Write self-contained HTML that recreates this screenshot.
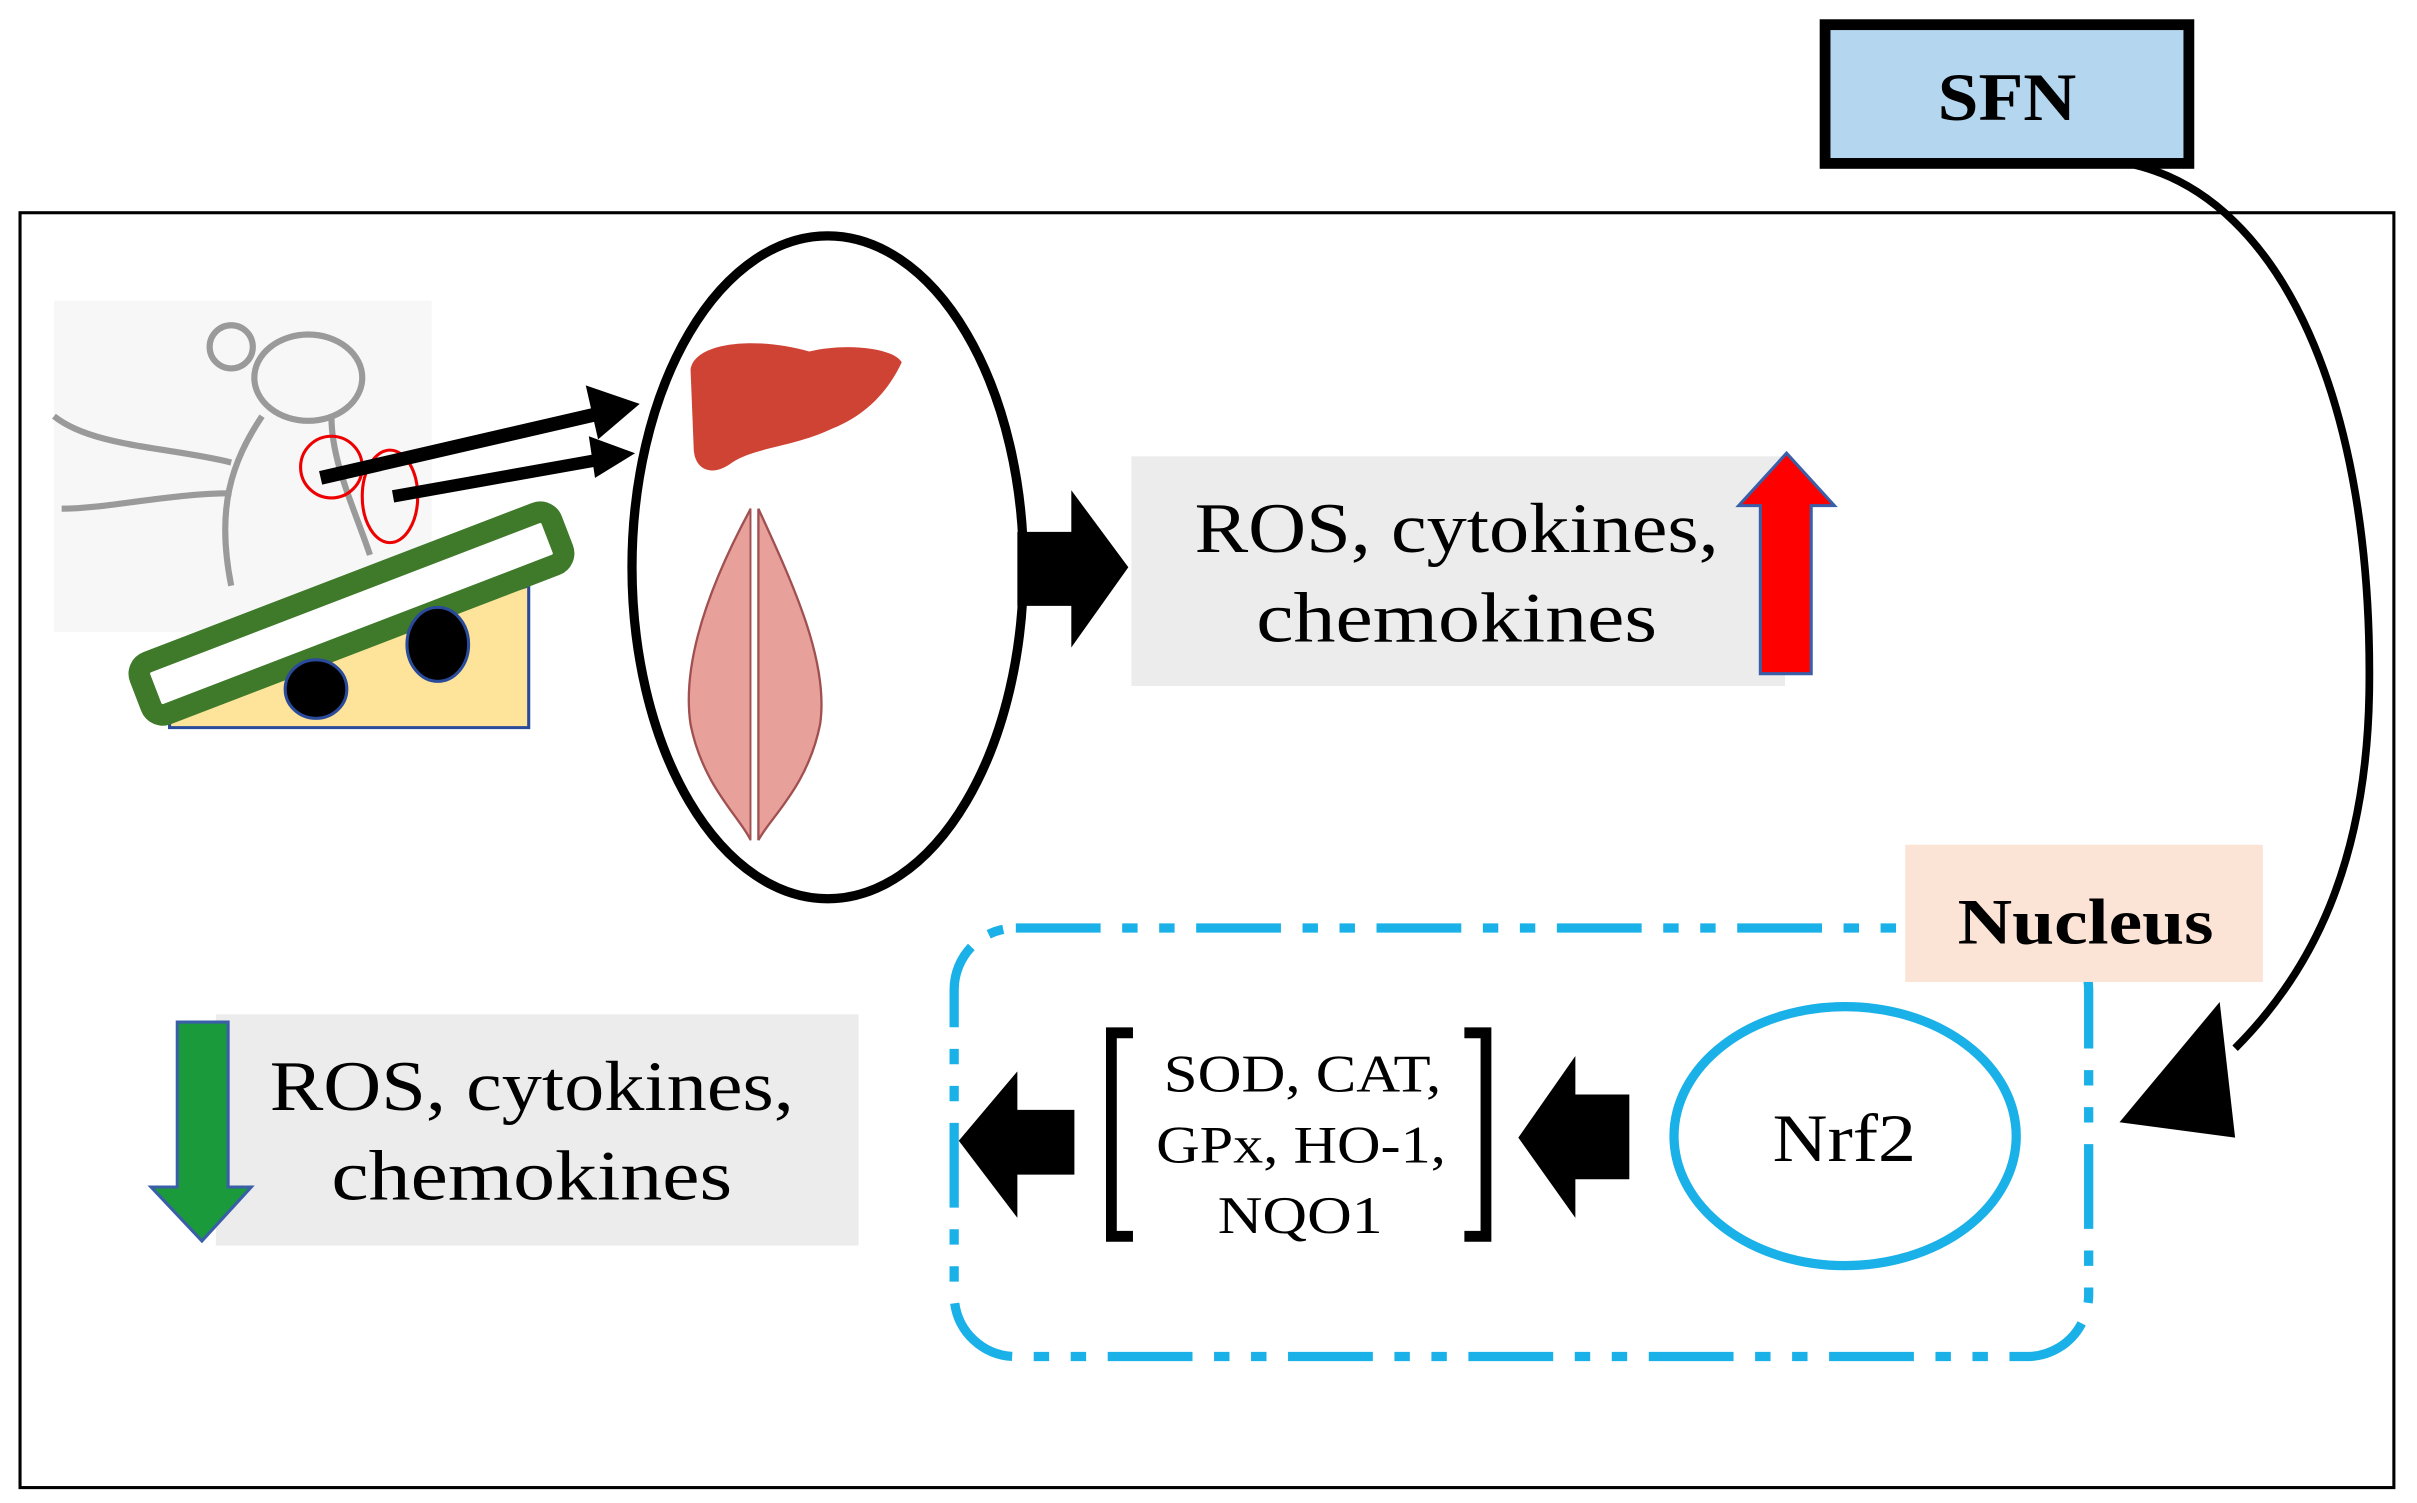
<!DOCTYPE html>
<html><head><meta charset="utf-8"><style>
html,body{margin:0;padding:0;background:#fff;width:2417px;height:1503px;overflow:hidden}
svg{display:block}
text{font-family:"Liberation Serif",serif}
</style></head><body>
<svg width="2417" height="1503" viewBox="0 0 1568 975" preserveAspectRatio="none" xmlns="http://www.w3.org/2000/svg">
<rect x="0" y="0" width="1568" height="975" fill="#fff"/>
<rect x="13" y="138" width="1540" height="827" fill="none" stroke="#000" stroke-width="2"/>
<path d="M1385,107 C1480,130 1540,260 1537,450 C1535,560 1500,630 1450,680" fill="none" stroke="#000" stroke-width="5"/>
<polygon points="1440,650 1450,738 1375,728" fill="#000"/>
<rect x="1184" y="16" width="236" height="90" fill="#b4d6ef" stroke="#000" stroke-width="7"/>
<text x="1257" y="78" font-size="44" font-weight="bold" textLength="90" lengthAdjust="spacingAndGlyphs">SFN</text>

<rect x="35" y="195" width="245" height="215" fill="#f7f7f7"/>
<g fill="none" stroke="#9a9a9a" stroke-width="4">
<ellipse cx="200" cy="245" rx="35" ry="28"/>
<circle cx="150" cy="225" r="14"/>
<path d="M170,270 C150,300 140,330 150,380"/>
<path d="M215,270 C215,300 230,330 240,360"/>
<path d="M150,300 C110,290 60,290 35,270"/>
<path d="M150,320 C110,320 70,330 40,330"/>
</g>
<circle cx="215" cy="303" r="20" fill="none" stroke="#e00" stroke-width="2"/>
<ellipse cx="253" cy="322" rx="18" ry="30" fill="none" stroke="#e00" stroke-width="2"/>
<polygon points="110,472 343,472 343,380 110,450" fill="#fde49a" stroke="#2a4a9a" stroke-width="2"/>
<g transform="rotate(-21 228 398)">
<rect x="85" y="380" width="286" height="36" rx="8" fill="#fff" stroke="#3e7a2a" stroke-width="14"/>
</g>
<ellipse cx="205" cy="447" rx="20" ry="19" fill="#000" stroke="#2a4a9a" stroke-width="2"/>
<ellipse cx="284" cy="418" rx="20" ry="24" fill="#000" stroke="#2a4a9a" stroke-width="2"/>
<line x1="208" y1="310" x2="390" y2="268" stroke="#000" stroke-width="9"/>
<polygon points="415,262 380,250 388,285" fill="#000"/>
<line x1="255" y1="322" x2="390" y2="298" stroke="#000" stroke-width="8"/>
<polygon points="412,294 382,283 386,310" fill="#000"/>

<ellipse cx="537" cy="368" rx="127" ry="215" fill="#fff" stroke="#000" stroke-width="6"/>
<path d="M448,240 C450,222 490,218 525,228 C550,222 580,226 585,235 C578,250 565,268 540,278 C515,290 490,290 475,300 C462,310 450,305 450,290 Z" fill="#cf4334"/>
<path d="M487,330 C460,380 442,430 448,470 C456,510 480,530 487,545 Z" fill="#e8a09a" stroke="#a05050" stroke-width="1.5"/>
<path d="M492,330 C515,380 538,430 532,470 C524,510 500,530 492,545 Z" fill="#e8a09a" stroke="#a05050" stroke-width="1.5"/>
<line x1="489" y1="330" x2="489" y2="545" stroke="#fff" stroke-width="3"/>

<polygon points="660,345 695,345 695,318 732,368 695,420 695,393 660,393" fill="#000"/>
<rect x="734" y="296" width="424" height="149" fill="#ececec"/>
<text x="775" y="358" font-size="46" textLength="340" lengthAdjust="spacingAndGlyphs">ROS, cytokines,</text>
<text x="815" y="416" font-size="46" textLength="260" lengthAdjust="spacingAndGlyphs">chemokines</text>
<polygon points="1142,437 1175,437 1175,328 1190,328 1159,294 1128,328 1142,328" fill="#f00" stroke="#3a5fa8" stroke-width="2"/>

<rect x="619" y="602" width="736" height="278" rx="40" fill="none" stroke="#1ab0e8" stroke-width="6" stroke-dasharray="55,14,10,14,10,14"/>
<rect x="1236" y="548" width="232" height="89" fill="#fbe3d6"/>
<text x="1270" y="612" font-size="42" font-weight="bold" textLength="166" lengthAdjust="spacingAndGlyphs">Nucleus</text>
<ellipse cx="1197" cy="737" rx="111" ry="84" fill="#fff" stroke="#1ab0e8" stroke-width="6"/>
<text x="1150" y="753" font-size="44" textLength="93" lengthAdjust="spacingAndGlyphs">Nrf2</text>
<polygon points="1057,710 1022,710 1022,685 985,738 1022,790 1022,765 1057,765" fill="#000"/>
<path d="M735,670 L721,670 L721,802 L735,802" fill="none" stroke="#000" stroke-width="7"/>
<path d="M950,670 L964,670 L964,802 L950,802" fill="none" stroke="#000" stroke-width="7"/>
<text x="755" y="708" font-size="34" textLength="180" lengthAdjust="spacingAndGlyphs">SOD, CAT,</text>
<text x="750" y="754" font-size="34" textLength="188" lengthAdjust="spacingAndGlyphs">GPx, HO-1,</text>
<text x="790" y="800" font-size="34" textLength="107" lengthAdjust="spacingAndGlyphs">NQO1</text>
<polygon points="697,720 660,720 660,695 622,740 660,790 660,762 697,762" fill="#000"/>
<rect x="140" y="658" width="417" height="150" fill="#ececec"/>
<text x="175" y="720" font-size="46" textLength="340" lengthAdjust="spacingAndGlyphs">ROS, cytokines,</text>
<text x="215" y="778" font-size="46" textLength="260" lengthAdjust="spacingAndGlyphs">chemokines</text>
<polygon points="115,663 148,663 148,770 163,770 131,805 98,770 115,770" fill="#1a9a3a" stroke="#3a5fa8" stroke-width="2"/>
</svg>
</body></html>
